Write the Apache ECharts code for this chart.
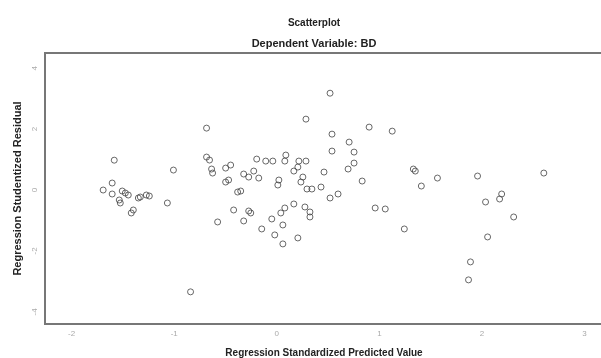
<!DOCTYPE html>
<html>
<head>
<meta charset="utf-8">
<script src="https://cdn.jsdelivr.net/npm/echarts@6/dist/echarts.min.js"></script>
<style>
html,body{margin:0;padding:0;background:#fff;}
#c{width:601px;height:358px;}
</style>
</head>
<body>
<div id="c"></div>
<script>
// Regression Standardized Predicted Value (x)
var predicted = [
 -1.585,-1.008,-1.605,-1.693,-1.605,-1.507,-1.477,-1.448,-1.536,-1.526,
 -1.350,-1.331,-1.272,-1.243,-1.399,-1.419,-1.067,-0.841,
 -0.685,-0.685,-0.656,-0.636,-0.626,-0.499,-0.450,-0.499,-0.470,-0.382,
 -0.352,-0.421,-0.577,-0.323,-0.323,-0.274,-0.225,-0.176,-0.196,-0.108,
 -0.039,0.088,0.078,0.020,0.010,-0.274,-0.254,-0.049,0.039,0.078,
 -0.147,-0.020,0.059,0.059,0.215,0.284,0.205,0.166,0.254,0.235,
 0.294,0.342,0.431,0.519,0.597,0.166,0.274,0.323,0.323,0.205,
 0.519,0.284,0.900,1.125,0.538,0.705,0.538,0.753,0.753,0.695,
 0.460,0.832,0.959,1.057,
 1.331,1.350,1.409,1.566,1.957,2.603,2.192,2.172,2.035,2.309,
 1.243,2.055,1.888,1.869
];
// Regression Studentized Residual (y)
var residual = [
 0.98,0.656,0.23,0.0,-0.131,-0.033,-0.098,-0.164,-0.328,-0.426,
 -0.262,-0.230,-0.164,-0.197,-0.656,-0.754,-0.426,-3.344,
 2.033,1.082,0.984,0.689,0.557,0.721,0.820,0.262,0.328,-0.066,
 -0.033,-0.656,-1.049,-1.016,0.525,0.426,0.623,0.393,1.016,0.951,
 0.951,1.148,0.951,0.328,0.164,-0.689,-0.754,-0.951,-0.754,-0.590,
 -1.279,-1.475,-1.770,-1.148,0.951,0.951,0.754,0.623,0.426,0.262,
 0.033,0.033,0.098,-0.262,-0.131,-0.459,-0.557,-0.721,-0.885,-1.574,
 3.180,2.328,2.066,1.934,1.836,1.574,1.279,1.246,0.885,0.689,
 0.590,0.295,-0.590,-0.623,
 0.689,0.623,0.131,0.393,0.459,0.557,-0.131,-0.295,-0.393,-0.885,
 -1.279,-1.541,-2.361,-2.951
];
var xTicks = [-2,-1,0,1,2,3];
var yTicks = [-4,-2,0,2,4];

var pts = predicted.map(function(v,i){return [v,residual[i]];});
var FONT = '"Liberation Sans", Arial, sans-serif';

var chart = echarts.init(document.getElementById('c'), null, {renderer:'canvas'});
chart.setOption({
  animation:false,
  backgroundColor:'#fff',
  title:[
    {text:'Scatterplot', left:309, top:13, textAlign:'center',
     textStyle:{fontFamily:FONT,fontSize:10,fontWeight:'bold',color:'#222'}},
    {text:'Dependent Variable: BD', left:309, top:33, textAlign:'center',
     textStyle:{fontFamily:FONT,fontSize:11,fontWeight:'bold',color:'#222'}}
  ],
  grid:{left:45, top:53, right:-2, bottom:34, outerBoundsMode:'none', containLabel:false,
        show:true, borderColor:'#777', borderWidth:2, backgroundColor:'#fff'},
  xAxis:{
    type:'value', min:-2.26, max:3.18,
    name:'Regression Standardized Predicted Value', nameLocation:'middle', nameGap:24,
    nameTextStyle:{fontFamily:FONT,fontSize:10,fontWeight:'bold',color:'#222'},
    axisLine:{show:true,onZero:false,lineStyle:{color:'#777',width:2}},
    axisTick:{show:false},
    splitLine:{show:false},
    axisLabel:{customValues:xTicks, color:'#aaa', fontSize:8, fontFamily:FONT, margin:6}
  },
  yAxis:{
    type:'value', min:-4.4, max:4.5,
    name:'Regression Studentized Residual', nameLocation:'middle', nameGap:22, nameRotate:90,
    nameTextStyle:{fontFamily:FONT,fontSize:11,fontWeight:'bold',color:'#222'},
    axisLine:{show:true,onZero:false,lineStyle:{color:'#777',width:2}},
    axisTick:{show:false},
    splitLine:{show:false},
    axisLabel:{customValues:yTicks, color:'#aaa', fontSize:8, fontFamily:FONT, margin:6, rotate:90}
  },
  series:[{
    type:'scatter', data:pts, symbol:'circle', symbolSize:6,
    itemStyle:{color:'rgba(255,255,255,0)', borderColor:'#444', borderWidth:1}
  }]
});
</script>
</body>
</html>
